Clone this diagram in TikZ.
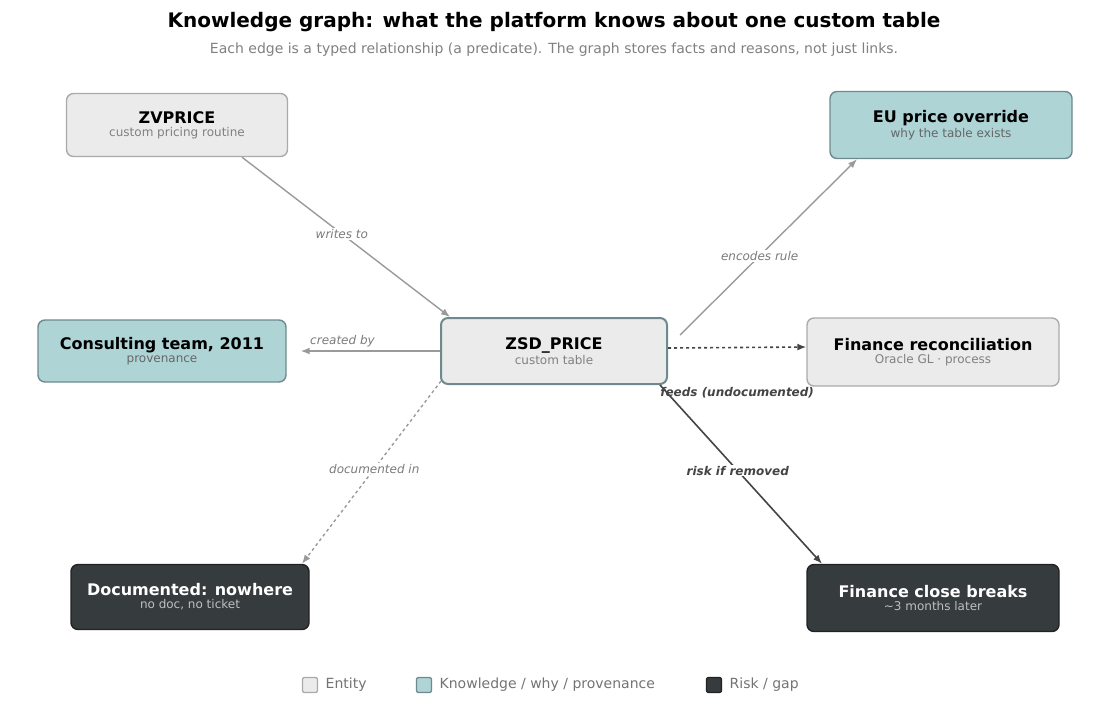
\documentclass[tikz,border=0pt]{standalone}
\usepackage{fontspec}
\setmainfont{DejaVu Sans}
\usetikzlibrary{arrows.meta}
\definecolor{entfill}{HTML}{EBEBEB}
\definecolor{entline}{HTML}{AAAAAA}
\definecolor{knowfill}{HTML}{AED4D6}
\definecolor{knowline}{HTML}{6F8A8E}
\definecolor{riskfill}{HTML}{363B3D}
\definecolor{riskline}{HTML}{222222}
\definecolor{edgegray}{HTML}{9A9A9A}
\definecolor{edgedark}{HTML}{444444}
\newcommand{\boxtext}[3]{{\fontsize{16}{19}\selectfont\bfseries #1}\\[1pt]{\fontsize{12}{14}\selectfont\color{#3}#2}}
\begin{document}
\begin{tikzpicture}[x=1pt,y=-1pt]
            \tikzset{box/.style = {rounded corners=7pt, line width=1.4pt, align=center, inner sep=0pt}}
            \tikzset{entity/.style = {box, fill=entfill, draw=entline}}
            \tikzset{know/.style = {box, fill=knowfill, draw=knowline}}
            \tikzset{risk/.style = {box, fill=riskfill, draw=riskline, text=white}}
            \tikzset{lgray/.style = {-{Latex[length=9pt,width=7pt]}, edgegray, line width=1.4pt}}
            \tikzset{ldark/.style = {-{Latex[length=9pt,width=7pt]}, edgedark, line width=1.6pt}}
            \tikzset{elabel/.style = {font=\fontsize{12}{14}\selectfont\itshape, text=edgegray!80!black}}
            \tikzset{dlabel/.style = {font=\fontsize{12}{14}\selectfont\bfseries\itshape, text=edgedark}}
            \tikzset{legend/.style = {rounded corners=2pt, line width=1.3pt, minimum size=15pt, inner sep=0pt}}

            \useasboundingbox (0,0) rectangle (1110,710);

            \node[font=\fontsize{20}{24}\selectfont\bfseries] (title) at (554,22) {Knowledge graph: what the platform knows about one custom table};
            \node[font=\fontsize{14}{17}\selectfont, text=gray] (sub) at (554,50) {Each edge is a typed relationship (a predicate). The graph stores facts and reasons, not just links.};

            \node[entity, minimum width=221pt, minimum height=63pt] (zv) at (177,125) {\boxtext{ZVPRICE}{custom pricing routine}{gray}};
            \node[know, minimum width=242pt, minimum height=67pt] (eu) at (951,125) {\boxtext{EU price override}{why the table exists}{gray!80!black}};
            \node[know, minimum width=248pt, minimum height=62pt] (team) at (162,351) {\boxtext{Consulting team, 2011}{provenance}{gray!80!black}};
            \node[entity, draw=knowline, line width=2pt, minimum width=226pt, minimum height=66pt] (zsd) at (554,351) {\boxtext{ZSD\_PRICE}{custom table}{gray}};
            \node[entity, minimum width=252pt, minimum height=68pt] (fin) at (933,352) {\boxtext{Finance reconciliation}{Oracle GL · process}{gray}};
            \node[risk, minimum width=238pt, minimum height=65pt] (doc) at (190,597) {\boxtext{Documented: nowhere}{no doc, no ticket}{white!75!black}};
            \node[risk, minimum width=252pt, minimum height=67pt] (close) at (933,598) {\boxtext{Finance close breaks}{\textasciitilde 3 months later}{white!75!black}};

            % edges
            \draw[lgray] ([xshift=65pt]zv.south) -- node[elabel, pos=0.48, fill=white, inner sep=1pt]{writes to} ([xshift=-104pt]zsd.north);
            \draw[lgray] ([xshift=126pt,yshift=-18pt]zsd.north) -- node[elabel, pos=0.45, fill=white, inner sep=1pt]{encodes rule} ([xshift=-94pt]eu.south);
            \draw[lgray] (zsd.west) -- node[elabel, above, pos=0.7]{created by} ([xshift=14pt]team.east);
            \draw[ldark, dashed] ([yshift=3pt]zsd.east) -- node[dlabel, pos=0.5, yshift=-45pt]{feeds (undocumented)} ([yshift=5pt]fin.west);
            \draw[lgray, dashed] ([xshift=-113pt,yshift=4pt]zsd.south) -- node[elabel, pos=0.48, fill=white, inner sep=1pt]{documented in} ([xshift=112pt]doc.north);
            \draw[ldark] ([xshift=106pt]zsd.south) -- node[dlabel, pos=0.48, fill=white, inner sep=1pt]{risk if removed} ([xshift=-111pt]close.north);

            % legend
            \node[legend, fill=entfill, draw=entline] (lg1) at (310,685) {};
            \node[anchor=west, font=\fontsize{14}{17}\selectfont, text=gray!90!black] (lt1) at ([xshift=4pt]lg1.east) {Entity};
            \node[legend, fill=knowfill, draw=knowline] (lg2) at (424,685) {};
            \node[anchor=west, font=\fontsize{14}{17}\selectfont, text=gray!90!black] (lt2) at ([xshift=4pt]lg2.east) {Knowledge / why / provenance};
            \node[legend, fill=riskfill, draw=riskline] (lg3) at (714,685) {};
            \node[anchor=west, font=\fontsize{14}{17}\selectfont, text=gray!90!black] (lt3) at ([xshift=4pt]lg3.east) {Risk / gap};
\end{tikzpicture}
\end{document}
